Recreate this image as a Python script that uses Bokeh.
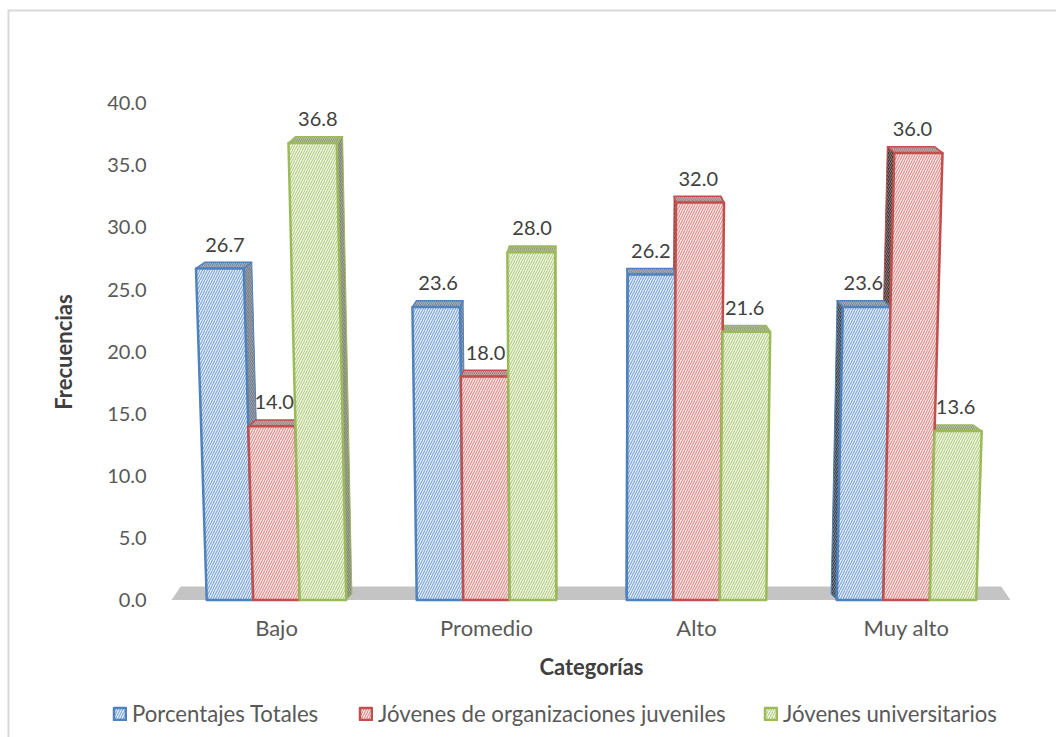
from bokeh.embed import file_html
from bokeh.resources import INLINE
from bokeh.plotting import figure
from bokeh.models import (ColumnDataSource, FixedTicker, Legend, LegendItem,
                          BoxAnnotation, Range1d)
from bokeh.core.properties import value

categories = ["Bajo", "Promedio", "Alto", "Muy alto"]
series_names = ["Porcentajes Totales", "Jóvenes de organizaciones juveniles", "Jóvenes universitarios"]
totales = [26.7, 23.6, 26.2, 23.6]
organizaciones = [14.0, 18.0, 32.0, 36.0]
universitarios = [36.8, 28.0, 21.6, 13.6]
y_ticks = [0, 5, 10, 15, 20, 25, 30, 35, 40]

series = [totales, organizaciones, universitarios]
line_cols = ["#4f81bd", "#c0504d", "#9bbb59"]
fill_cols = ["#e6eef8", "#fae8e7", "#f2f6e6"]
hatch_cols = ["#7ea6d8", "#dc8f8d", "#b5cf86"]
top_cols = ["#7c8ea3", "#a98482", "#98a578"]
side_right = ["#78818c", "#8a7a7a", "#858a78"]
side_left = ["#3a4654", "#4a3838", "#4c5240"]

FONT = "Lato"
BAR_W = 0.2214
VP = 1.5
K = 0.00105
BACK = 0.977
RISE = 0.5
STD = dict(hatch_pattern="right_diagonal_line", hatch_scale=5, hatch_weight=1.1)

def persp(x, v, factor=1.0):
    return VP + (x - VP) * (1 + K * v) * factor

p = figure(width=1056, height=737, output_backend="svg", toolbar_location=None,
           x_range=Range1d(-1.3143, 3.7143), y_range=Range1d(-11.07, 48.27),
           min_border_left=0, min_border_right=0, min_border_top=0, min_border_bottom=0,
           outline_line_color=None)
p.grid.visible = False

# ground
gx = [persp(-0.5, 0), persp(3.495, 0), persp(3.495, 0, 0.978), persp(-0.5, 0, 0.978)]
p.patch(gx, [0, 0, 1.08, 1.08], fill_color="#c4c4c4", line_color=None)

sides = [[], [], []]
tops = [[], [], []]
fronts = [[], [], []]
for s, vals in enumerate(series):
    for g, v in enumerate(vals):
        l = g + (s - 1.5) * BAR_W
        r = l + BAR_W
        tops[s].append(([persp(l, v), persp(r, v), persp(r, v, BACK), persp(l, v, BACK)],
                        [v, v, v + RISE, v + RISE]))
        fronts[s].append(([persp(l, 0), persp(r, 0), persp(r, v), persp(l, v)], [0, 0, v, v]))
        if r < VP:
            sides[s].append(([persp(r, 0), persp(r, 0, BACK), persp(r, v, BACK), persp(r, v)],
                             [0, RISE, v + RISE, v], side_right[s]))
        if l > VP:
            sides[s].append(([persp(l, 0), persp(l, 0, BACK), persp(l, v, BACK), persp(l, v)],
                             [0, RISE, v + RISE, v], side_left[s]))

for s in range(3):
    src = ColumnDataSource(dict(xs=[a[0] for a in sides[s]], ys=[a[1] for a in sides[s]],
                                c=[a[2] for a in sides[s]]))
    p.patches("xs", "ys", source=src, fill_color="c", line_color=line_cols[s], line_width=1,
              hatch_pattern="right_diagonal_line", hatch_scale=4, hatch_weight=0.5, hatch_color="#bbbbbb")
for s in range(3):
    src = ColumnDataSource(dict(xs=[a[0] for a in tops[s]], ys=[a[1] for a in tops[s]]))
    p.patches("xs", "ys", source=src, fill_color=top_cols[s], line_color=line_cols[s], line_width=1.5,
              line_join="round", hatch_pattern="right_diagonal_line", hatch_scale=4, hatch_weight=0.6,
              hatch_color="#c4c4c4")
front_r = []
for s in range(3):
    src = ColumnDataSource(dict(xs=[a[0] for a in fronts[s]], ys=[a[1] for a in fronts[s]]))
    front_r.append(p.patches("xs", "ys", source=src, fill_color=fill_cols[s], line_color=line_cols[s],
                             line_width=2.5, line_join="round", hatch_color=hatch_cols[s], **STD))

# data labels
lx, ly, lt = [], [], []
for s, vals in enumerate(series):
    for g, v in enumerate(vals):
        c = g + (s - 1) * BAR_W
        lx.append(VP + (c - VP) * (1 + K * 0.5 * v))
        ly.append(v + 1.92)
        lt.append(f"{v:.1f}")
p.text(lx, ly, lt, text_font=value(FONT), text_font_size="20px", text_color="#404040",
       text_align="center", text_baseline="middle")

# axes drawn inside the full-page frame
p.xaxis.fixed_location = 0
p.xaxis.bounds = (-0.5, 3.5)
p.yaxis.fixed_location = -0.58
p.yaxis.bounds = (0, 40)
p.yaxis.ticker = FixedTicker(ticks=y_ticks)
p.yaxis.major_label_overrides = {t: f"{t:.1f}" for t in y_ticks}
p.xaxis.ticker = FixedTicker(ticks=list(range(4)))
p.xaxis.major_label_overrides = {i: c for i, c in enumerate(categories)}
for ax in (p.xaxis, p.yaxis):
    ax.axis_line_color = None
    ax.major_tick_line_color = None
    ax.minor_tick_line_color = None
    ax.major_label_text_font = FONT
    ax.major_label_text_font_size = "22px"
    ax.major_label_text_color = "#595959"
    ax.axis_label_text_font = FONT
    ax.axis_label_text_font_size = "22px"
    ax.axis_label_text_font_style = "bold"
    ax.axis_label_text_color = "#404040"
p.yaxis.major_label_text_font_size = "20px"
p.yaxis.major_label_standoff = 2
p.xaxis.major_label_standoff = 8
p.xaxis.axis_label = "Categorías"
p.yaxis.axis_label = "Frecuencias"
p.xaxis.axis_label_standoff = 8
p.yaxis.axis_label_standoff = 27

# legend, one block per entry
for s, (name, px) in enumerate(zip(series_names, [112, 358, 763])):
    leg = Legend(items=[LegendItem(label=name, renderers=[front_r[s]])], location=(px, 10),
                 background_fill_alpha=0, border_line_color=None, padding=0, margin=0,
                 glyph_width=15, glyph_height=15, label_standoff=5,
                 label_text_font=FONT, label_text_font_size="22.2px", label_text_color="#595959")
    p.add_layout(leg, "center")

# chart border
p.add_layout(BoxAnnotation(left=8, right=1056, top=9, bottom=11, left_units="canvas", right_units="canvas",
                           top_units="canvas", bottom_units="canvas", fill_color="#d9d9d9", fill_alpha=1,
                           line_color=None))
p.add_layout(BoxAnnotation(left=7, right=9, top=9, bottom=737, left_units="canvas", right_units="canvas",
                           top_units="canvas", bottom_units="canvas", fill_color="#d9d9d9", fill_alpha=1,
                           line_color=None))

open("out.html", "w").write(file_html(p, INLINE))
